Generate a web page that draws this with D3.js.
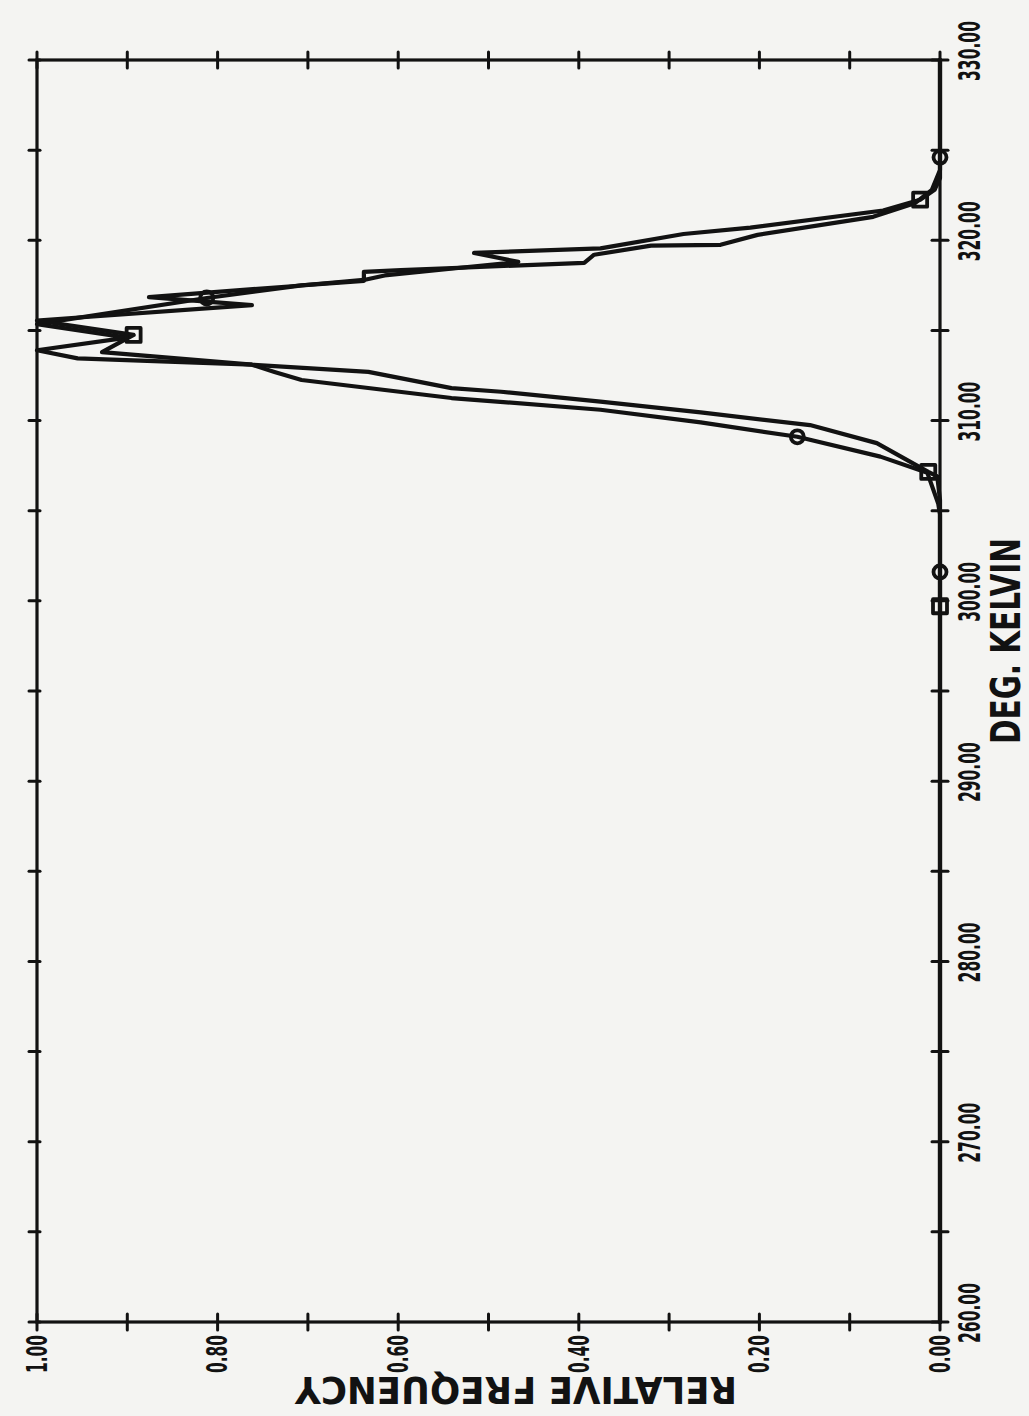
<!DOCTYPE html>
<html><head><meta charset="utf-8">
<script src="https://cdn.jsdelivr.net/npm/d3@7"></script>
<style>html,body{margin:0;padding:0;background:#f4f4f2;} svg{display:block}</style>
</head><body><svg id="c" width="1029" height="1416"></svg>
<script>
// Series A (circle markers)
const tempA = [260.0, 301.6, 304.8, 305.4, 307.1, 308.0, 309.1, 309.9, 310.6, 311.25, 312.25, 312.7, 313.1, 313.45, 313.9, 314.6, 315.35, 316.8, 317.5, 317.75, 318.25, 318.35, 318.75, 319.2, 319.7, 319.75, 320.3, 321.3, 322.05, 322.8, 323.9, 324.6, 330.0];
const freqA = [0, 0, 0, 0.002, 0.014, 0.066, 0.158, 0.265, 0.376, 0.541, 0.707, 0.737, 0.762, 0.955, 1.0, 0.90, 1.0, 0.812, 0.707, 0.638, 0.638, 0.597, 0.394, 0.383, 0.320, 0.243, 0.202, 0.074, 0.028, 0.009, 0, 0, 0];
const markA = [1, 6, 17, 31];
// Series B (square markers)
const tempB = [260.0, 299.7, 305.6, 306.9, 307.15, 308.75, 309.75, 310.45, 311.05, 311.6, 311.8, 312.7, 313.1, 313.8, 314.75, 315.55, 316.4, 316.85, 317.45, 317.8, 318.05, 318.8, 319.3, 319.55, 320.35, 320.7, 321.65, 322.25, 322.8, 323.45, 330.0];
const freqB = [0, 0, 0, 0.003, 0.013, 0.070, 0.144, 0.265, 0.376, 0.486, 0.541, 0.633, 0.762, 0.928, 0.893, 1.0, 0.762, 0.876, 0.718, 0.638, 0.615, 0.467, 0.516, 0.376, 0.284, 0.210, 0.063, 0.022, 0.006, 0, 0];
const markB = [1, 4, 14, 27];
// Axes
const tempTicks = [260, 265, 270, 275, 280, 285, 290, 295, 300, 305, 310, 315, 320, 325, 330];
const tempLabelVals = [260, 270, 280, 290, 300, 310, 320, 330];
const tempLabels = ["260.00", "270.00", "280.00", "290.00", "300.00", "310.00", "320.00", "330.00"];
const freqTicks = [0, 0.1, 0.2, 0.3, 0.4, 0.5, 0.6, 0.7, 0.8, 0.9, 1.0];
const freqLabelVals = [0, 0.2, 0.4, 0.6, 0.8, 1.0];
const freqLabels = ["0.00", "0.20", "0.40", "0.60", "0.80", "1.00"];
const xTitle = "DEG. KELVIN";
const yTitle = "RELATIVE FREQUENCY";

const svg = d3.select("#c");
const ink = "#121212";
const font = "'Liberation Sans Narrow','DejaVu Sans Condensed','Roboto',sans-serif";
const L = 37, R = 940, T = 60, B = 1322;
const yT = d3.scaleLinear().domain([260, 330]).range([B, T]);
const xF = d3.scaleLinear().domain([0, 1]).range([R, L]);

svg.append("rect").attr("width", 1029).attr("height", 1416).attr("fill", "#f4f4f2");

const g = svg.append("g").attr("stroke", ink).attr("stroke-linecap", "round");
// frame
g.append("rect").attr("x", L).attr("y", T).attr("width", R - L).attr("height", B - T)
  .attr("fill", "none").attr("stroke-width", 3.2);
// right axis ticks (temperature)
g.selectAll(".tr").data(tempTicks).join("line")
  .attr("x1", R - 8).attr("x2", R + 8).attr("y1", d => yT(d)).attr("y2", d => yT(d)).attr("stroke-width", 3);
// left frame ticks
g.selectAll(".tl").data(tempTicks).join("line")
  .attr("x1", L - 8).attr("x2", L + 3).attr("y1", d => yT(d)).attr("y2", d => yT(d)).attr("stroke-width", 3);
// bottom axis ticks (frequency)
g.selectAll(".fb").data(freqTicks).join("line")
  .attr("y1", B - 8).attr("y2", B + 8).attr("x1", d => xF(d)).attr("x2", d => xF(d)).attr("stroke-width", 3);
// top frame ticks
g.selectAll(".ft").data(freqTicks).join("line")
  .attr("y1", T - 8).attr("y2", T + 8).attr("x1", d => xF(d)).attr("x2", d => xF(d)).attr("stroke-width", 3);

// text helper: squeeze a text along its own direction to a target length with a real transform
function fit(sel, baseFn, target) {
  sel.each(function(d, i) {
    const n = this.getComputedTextLength() || target;
    const k = target / n;
    d3.select(this).attr("transform", `${baseFn(d, i)} scale(${k},1)`);
  });
}

const tl = svg.append("g").attr("fill", ink).attr("font-family", font).attr("font-weight", "bold");
const tLab = tl.selectAll(".tlab").data(tempLabelVals).join("text")
  .attr("text-anchor", "middle").attr("dominant-baseline", "central")
  .attr("font-size", 31).text((d, i) => tempLabels[i]);
fit(tLab, d => `translate(970,${yT(d) - 9}) rotate(-90)`, 60);

const fLab = tl.selectAll(".flab").data(freqLabelVals).join("text")
  .attr("text-anchor", "end").attr("dominant-baseline", "central")
  .attr("font-size", 29).text((d, i) => freqLabels[i]);
fit(fLab, d => `translate(${xF(d)},1335) rotate(-90)`, 38);

const xt = tl.append("text").attr("text-anchor", "middle").attr("dominant-baseline", "central")
  .attr("font-size", 40).text(xTitle);
fit(xt, () => "translate(1006,641) rotate(-90)", 206);
const yt = tl.append("text").attr("text-anchor", "middle").attr("dominant-baseline", "central")
  .attr("font-size", 38).text(yTitle);
fit(yt, () => "translate(516,1390) rotate(180)", 442);

// series
const dataA = tempA.map((t, i) => ({t, f: freqA[i]}));
const dataB = tempB.map((t, i) => ({t, f: freqB[i]}));
const line = d3.line().x(d => xF(d.f)).y(d => yT(d.t));
const sg = svg.append("g").attr("fill", "none").attr("stroke", ink).attr("stroke-width", 4.2)
  .attr("stroke-linejoin", "round").attr("stroke-linecap", "round");
sg.append("path").attr("d", line(dataA));
sg.append("path").attr("d", line(dataB));
sg.selectAll(".mc").data(markA.map(i => dataA[i])).join("circle")
  .attr("cx", d => xF(d.f)).attr("cy", d => yT(d.t)).attr("r", 6.5).attr("stroke-width", 3.8);
sg.selectAll(".ms").data(markB.map(i => dataB[i])).join("rect")
  .attr("x", d => xF(d.f) - 7).attr("y", d => yT(d.t) - 7).attr("width", 14).attr("height", 14)
  .attr("stroke-width", 3.8);
</script>
</body></html>
